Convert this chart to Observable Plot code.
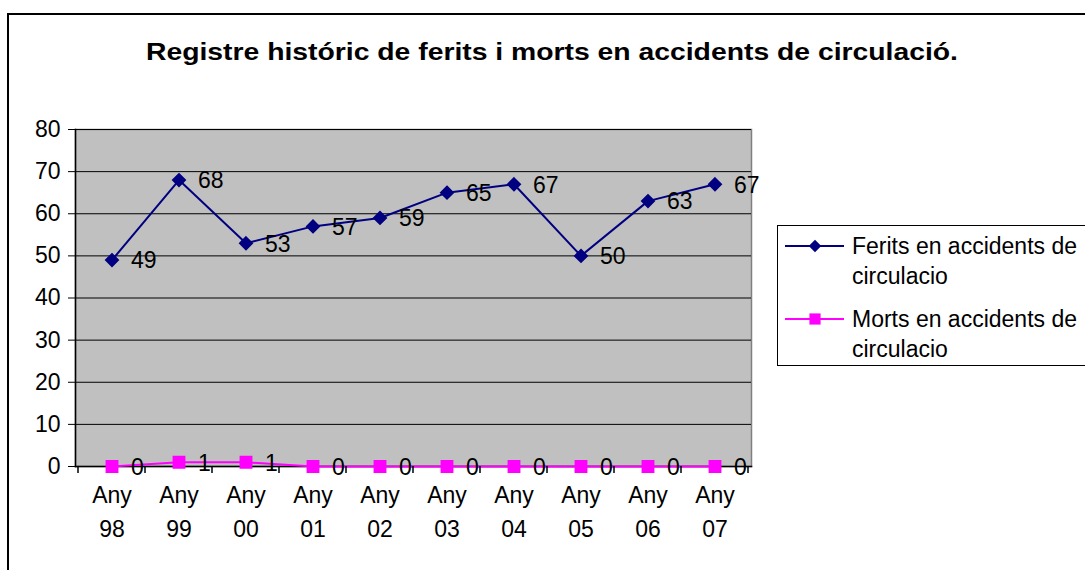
<!DOCTYPE html>
<html>
<head>
<meta charset="utf-8">
<script src="https://cdn.jsdelivr.net/npm/d3@7"></script>
<script src="https://cdn.jsdelivr.net/npm/@observablehq/plot@0.6"></script>
<style>
  html, body { margin: 0; padding: 0; background: #fff; }
  #wrap { position: relative; width: 1085px; height: 570px; overflow: hidden; font-family: "Liberation Sans", Arial, sans-serif; }
  #border { position: absolute; left: 7px; top: 13px; width: 1100px; height: 600px; border: 2px solid #000; box-sizing: border-box; }
  #title { position: absolute; left: 146px; top: 37px; font-weight: bold; font-size: 23px; line-height: 30px; color: #000; white-space: nowrap; transform-origin: 0 50%; }
  #chart { position: absolute; left: 0; top: 0; }
  #legend { position: absolute; left: 777px; top: 225px; width: 330px; height: 141px; border: 1px solid #000; box-sizing: border-box; background: #fff; }
</style>
</head>
<body>
<div id="wrap">
  <div id="border"></div>
  <div id="chart"></div>
  <div id="title">Registre históric de ferits i morts en accidents de circulació.</div>
  <div id="legend"><svg id="legsvg" width="330" height="141"></svg></div>
</div>
<script>
const categories = ["Any\n98", "Any\n99", "Any\n00", "Any\n01", "Any\n02", "Any\n03", "Any\n04", "Any\n05", "Any\n06", "Any\n07"];
const ferits = [49, 68, 53, 57, 59, 65, 67, 50, 63, 67];
const morts = [0, 1, 1, 0, 0, 0, 0, 0, 0, 0];
const seriesNames = ["Ferits en accidents de\ncirculacio", "Morts en accidents de\ncirculacio"];
const yTicks = [0, 10, 20, 30, 40, 50, 60, 70, 80];

const navy = "#000080", magenta = "#FF00FF";
const rowsF = categories.map((c, i) => ({cat: c, v: ferits[i]}));
const rowsM = categories.map((c, i) => ({cat: c, v: morts[i]}));
const FS = 23;

const plot = Plot.plot({
  width: 1085,
  height: 570,
  marginLeft: 75,
  marginRight: 334,
  marginTop: 129,
  marginBottom: 104,
  style: {fontFamily: "Liberation Sans, Arial, sans-serif", fontSize: FS + "px", color: "#000", background: "transparent", overflow: "visible"},
  x: {type: "band", domain: categories, padding: 0},
  y: {domain: [0, 80]},
  marks: [
    Plot.frame({fill: "#c0c0c0", stroke: "#808080", strokeWidth: 1.5}),
    Plot.gridY(yTicks, {stroke: "#000", strokeOpacity: 1, strokeWidth: 1}),
    Plot.frame({anchor: "left", stroke: "#000", strokeWidth: 1.5}),
    Plot.frame({anchor: "bottom", stroke: "#000", strokeWidth: 1.5}),
    Plot.axisY(yTicks, {tickSize: 7, tickPadding: 8, fontSize: FS, label: null, stroke: "#000"}),
    Plot.axisX({tickSize: 0, tickPadding: 12, fontSize: FS, lineHeight: 1.48, label: null}),
    Plot.line(rowsF, {x: "cat", y: "v", stroke: navy, strokeWidth: 2}),
    Plot.dot(rowsF, {x: "cat", y: "v", symbol: "diamond2", r: 5.7, fill: navy, stroke: navy}),
    Plot.text(rowsF, {x: "cat", y: "v", text: d => String(d.v), dx: 19, dy: 1, textAnchor: "start", fontSize: FS, fill: "#000"}),
    Plot.line(rowsM, {x: "cat", y: "v", stroke: magenta, strokeWidth: 2}),
    Plot.dot(rowsM, {x: "cat", y: "v", symbol: "square", r: 6.4, fill: magenta, stroke: magenta}),
    Plot.text(rowsM, {x: "cat", y: "v", text: d => String(d.v), dx: 19, dy: 1, textAnchor: "start", fontSize: FS, fill: "#000"})
  ]
});
document.getElementById("chart").appendChild(plot);

// category boundary tick marks on the x axis, from the band scale
const xs = plot.scale("x");
const ys = plot.scale("y");
const y0 = ys.apply(0);
const svg = d3.select(plot);
const bounds = categories.map(c => xs.apply(c)).concat([xs.apply(categories[categories.length - 1]) + xs.bandwidth]);
svg.append("g").selectAll("line").data(bounds).join("line")
  .attr("x1", d => d).attr("x2", d => d)
  .attr("y1", y0).attr("y2", y0 + 7)
  .attr("stroke", "#000").attr("stroke-width", 1.5);

// stretch title to the reference width
const title = document.getElementById("title");
const tw = title.getBoundingClientRect().width;
title.style.transform = `scaleX(${812 / tw})`;

// legend
const leg = d3.select("#legsvg");
const items = [{name: seriesNames[0], color: navy, sym: d3.symbolDiamond2, size: 100}, {name: seriesNames[1], color: magenta, sym: d3.symbolSquare, size: 125}];
items.forEach((it, i) => {
  const cy = 20 + i * 73;
  leg.append("line").attr("x1", 7).attr("x2", 66).attr("y1", cy).attr("y2", cy).attr("stroke", it.color).attr("stroke-width", 2);
  leg.append("path").attr("d", d3.symbol(it.sym, it.size)()).attr("transform", `translate(37,${cy})`).attr("fill", it.color);
  const t = leg.append("text").attr("x", 74).attr("y", cy).attr("font-size", FS).attr("font-family", "Liberation Sans, Arial, sans-serif").attr("fill", "#000");
  it.name.split("\n").forEach((ln, j) => {
    t.append("tspan").attr("x", 74).attr("dy", j === 0 ? "0.35em" : "1.3em").text(ln);
  });
});
</script>
</body>
</html>
